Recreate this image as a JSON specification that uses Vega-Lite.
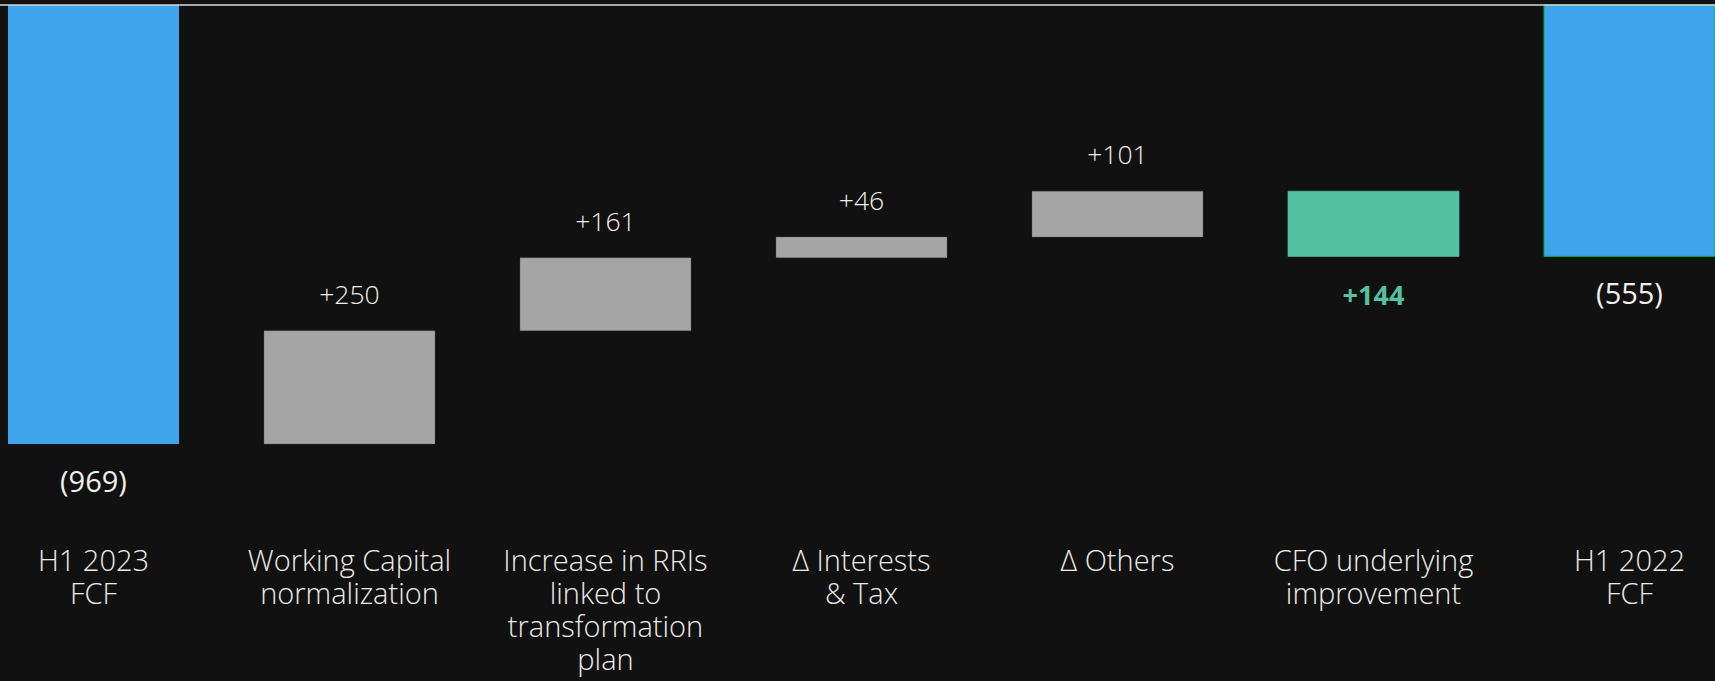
{
  "$schema": "https://vega.github.io/schema/vega-lite/v6.json",
  "width": 1715,
  "height": 453,
  "autosize": {"type": "none"},
  "padding": {"top": 5, "left": 0, "right": 0, "bottom": 223},
  "background": "#111111",
  "config": {"view": {"stroke": null}, "font": "Open Sans"},
  "data": {"values": [
    {"category": "H1 2023|FCF", "start": 0, "end": -969, "label": "(969)", "kind": "start"},
    {"category": "Working Capital|normalization", "start": -969, "end": -719, "label": "+250", "kind": "step"},
    {"category": "Increase in RRIs|linked to|transformation|plan", "start": -719, "end": -558, "label": "+161", "kind": "step"},
    {"category": "Δ Interests|& Tax", "start": -558, "end": -512, "label": "+46", "kind": "step"},
    {"category": "Δ Others", "start": -512, "end": -411, "label": "+101", "kind": "step"},
    {"category": "CFO underlying|improvement", "start": -411, "end": -555, "label": "+144", "kind": "cfo"},
    {"category": "H1 2022|FCF", "start": 0, "end": -555, "label": "(555)", "kind": "end"}
  ]},
  "layer": [
    {
      "encoding": {
        "x": {
          "field": "category", "type": "nominal", "sort": null,
          "scale": {"paddingInner": 0.332, "paddingOuter": 0.0156, "align": 1},
          "axis": {
            "title": null, "domain": false, "ticks": false, "labelAngle": 0,
            "labelPadding": 89, "labelFontSize": 29, "labelFont": "Open Sans", "labelFontWeight": 300,
            "labelColor": "#ecebe6", "labelExpr": "split(datum.value, '|')",
            "labelLineHeight": 33, "labelBaseline": "top", "labelOverlap": false,
            "labelLimit": 0, "labelBound": false, "labelFlush": false
          }
        }
      },
      "layer": [
        {
          "mark": {"type": "bar"},
          "encoding": {
            "y": {"field": "start", "type": "quantitative", "scale": {"domain": [-1000, 0], "nice": false, "zero": false}, "axis": null},
            "y2": {"field": "end"},
            "color": {"field": "kind", "type": "nominal", "legend": null,
              "scale": {"domain": ["start", "step", "cfo", "end"], "range": ["#3ea5ec", "#a5a5a5", "#53c1a0", "#3ea5ec"]}},
            "stroke": {"field": "kind", "type": "nominal", "legend": null,
              "scale": {"domain": ["start", "step", "cfo", "end"], "range": ["#3ea5ec", "#5c5c5c", "#53c1a0", "#00b050"]}},
            "strokeWidth": {"field": "kind", "type": "nominal", "legend": null,
              "scale": {"domain": ["start", "step", "cfo", "end"], "range": [0, 1, 0, 2]}}
          }
        },
        {
          "transform": [{"filter": "datum.kind == 'step'"}],
          "mark": {"type": "text", "dy": -35, "fontSize": 26.5, "fontWeight": 300, "color": "#f2efe8", "font": "Open Sans"},
          "encoding": {"y": {"field": "end", "type": "quantitative"}, "text": {"field": "label"}}
        },
        {
          "transform": [{"filter": "datum.kind == 'start' || datum.kind == 'end'"}],
          "mark": {"type": "text", "dy": 39, "fontSize": 29, "fontWeight": 400, "color": "#f2efe8", "font": "Open Sans"},
          "encoding": {"y": {"field": "end", "type": "quantitative"}, "text": {"field": "label"}}
        },
        {
          "transform": [{"filter": "datum.kind == 'cfo'"}],
          "mark": {"type": "text", "dy": 41, "fontSize": 27, "fontWeight": "bold", "color": "#55c1a0", "font": "Open Sans"},
          "encoding": {"y": {"field": "end", "type": "quantitative"}, "text": {"field": "label"}}
        }
      ]
    },
    {
      "data": {"values": [{"base": 0}]},
      "mark": {"type": "rule", "color": "#d9d9d9", "strokeWidth": 1.5},
      "encoding": {"y": {"datum": 0}}
    }
  ]
}
